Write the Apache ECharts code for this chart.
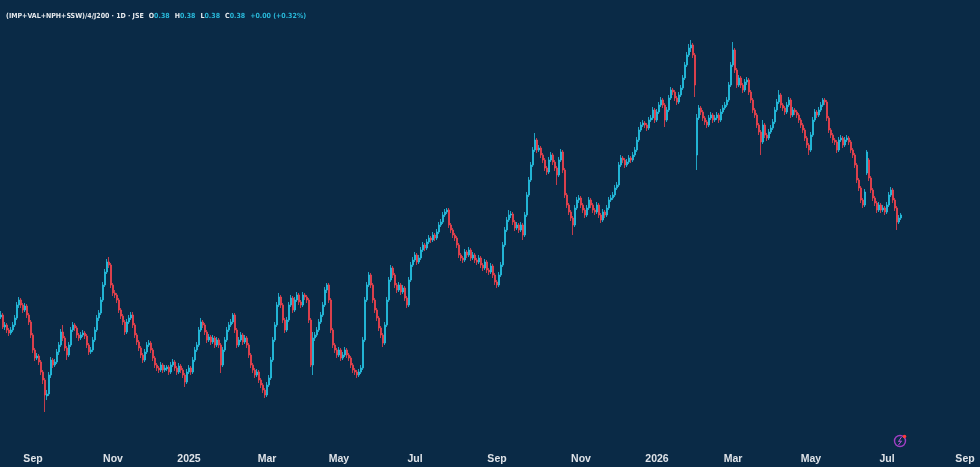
<!DOCTYPE html>
<html>
<head>
<meta charset="utf-8">
<script src="https://cdn.jsdelivr.net/npm/echarts@6/dist/echarts.min.js"></script>
<style>
html,body{margin:0;padding:0;background:#0a2a46;}
#main{width:980px;height:467px;}
</style>
</head>
<body>
<div id="main"></div>
<script>
//初始化
var symbolName = "(IMP+VAL+NPH+SSW)/4/J200 · 1D · JSE",
    lastO = "0.38", lastH = "0.38", lastL = "0.38", lastC = "0.38",
    lastChg = "+0.00 (+0.32%)";

// month ticks (category index) and their text
var tickIdx  = [16, 56, 94, 133, 169, 207, 248, 290, 328, 366, 405, 443, 482];
var tickText = ["Sep", "Nov", "2025", "Mar", "May", "Jul", "Sep", "Nov", "2026", "Mar", "May", "Jul", "Sep"];

var slotCount = 490;

// daily candles, price in thousandths: [open, close, low, high]
var candles = [
    // Aug - Oct 2024
    [283,285,281,289],[285,273,271,287],[273,275,270,278],[275,270,267,277],[270,267,264,272],
    [267,270,265,273],[270,275,268,278],[275,282,273,285],[282,295,280,298],[295,300,292,303],
    [300,295,292,302],[295,290,287,297],[290,294,288,297],[294,285,282,296],[285,278,275,287],
    [278,265,262,280],[265,250,247,267],[250,242,239,252],[242,244,240,247],[244,238,235,246],
    [238,228,225,240],[228,220,216,230],[220,205,188,222],[204,206,200,210],[206,225,204,228],
    [225,240,222,243],[240,235,232,242],[235,238,233,241],[238,248,236,251],[248,255,245,258],
    [255,268,253,271],
    [268,262,259,275],[262,252,249,264],[252,245,240,254],[245,255,243,258],[255,270,253,273],
    [270,275,268,278],[275,272,269,277],[272,265,262,274],[265,262,259,267],[262,265,260,268],
    [265,267,263,270],[267,264,261,269],[264,255,252,266],[255,248,245,257],[248,250,246,253],
    [250,260,248,263],[260,270,258,273],[270,282,268,285],[282,287,279,290],[287,300,285,303],
    [300,315,298,318],[315,328,313,331],[328,338,326,341],[338,335,332,343],[335,315,312,337],
    [315,307,304,317],[307,305,302,310],[305,300,297,307],[300,290,287,302],[290,284,281,292],
    // Nov - Dec 2024
    [284,278,275,286],[278,268,265,280],[268,278,266,281],[278,282,276,285],[282,285,280,288],
    [285,275,272,288],[275,265,262,277],[265,258,255,267],[258,252,249,260],[252,245,242,254],
    [245,240,237,247],[240,248,238,251],[248,255,246,258],[255,257,253,260],[257,250,247,259],
    [250,242,239,252],[242,235,232,244],[235,232,229,237],[232,230,227,234],[230,235,228,238],
    [235,230,227,237],[230,232,228,235],[231,233,229,235],[233,228,225,235],[228,235,226,238],
    // Jan - Mar 2025
    [235,238,233,241],[238,232,229,240],[232,228,225,234],[228,234,226,237],[234,230,227,236],
    [230,225,222,232],[225,218,213,227],[218,228,216,231],[228,232,226,235],[232,228,225,234],
    [228,240,226,243],[240,250,238,253],[250,255,248,258],[255,270,253,273],[270,278,268,282],
    [278,275,272,280],[275,268,265,277],[268,260,257,270],[260,263,258,266],[263,258,255,265],
    [258,262,256,265],[262,255,252,264],[255,260,253,263],[260,255,252,262],[255,235,227,257],
    [235,250,233,253],[250,260,248,263],[260,270,258,273],[270,275,268,278],[275,278,273,281],
    [278,285,276,287],[285,270,267,287],[270,255,252,272],[255,260,253,263],[260,265,258,268],
    [265,258,255,267],[258,262,256,265],[262,255,252,264],[255,245,242,257],[245,235,232,247],
    [235,230,227,237],[230,225,222,232],[225,228,223,231],[228,220,217,230],[220,215,212,222],
    [215,210,207,217],[210,205,202,212],[205,215,203,218],[215,222,213,225],
    // Apr - May 2025
    [222,240,220,243],[240,260,238,263],[260,275,258,278],[275,295,273,298],[295,303,293,307],
    [303,295,292,305],[295,280,277,297],[280,270,267,282],[270,280,268,283],[280,295,278,298],
    [295,302,293,305],[302,290,287,304],[290,300,288,303],[300,305,298,308],[305,298,295,307],
    [298,295,292,300],[295,305,293,308],[305,303,300,307],[303,300,297,305],[300,280,277,302],
    [280,235,233,282],[235,262,225,268],[262,265,259,268],[265,270,263,273],[270,278,268,281],
    [278,285,276,288],[285,295,283,298],[295,310,293,313],[310,315,307,317],[315,300,297,317],
    [300,270,267,302],[270,255,252,272],[255,250,247,257],[250,245,242,252],[245,250,243,253],
    [250,242,239,252],[242,245,240,248],[245,250,243,253],[250,245,242,252],[245,242,239,247],
    // Jun - Jul 2025
    [242,235,232,244],[235,230,227,237],[230,228,225,232],[228,225,222,230],[225,228,223,231],
    [228,232,226,235],[232,260,230,263],[260,300,258,303],[300,315,298,318],[315,325,313,328],
    [325,315,312,327],[315,300,297,317],[300,290,287,302],[290,282,279,292],[282,272,269,284],
    [272,265,262,274],[265,257,253,267],[257,275,255,278],[275,300,273,303],[300,320,298,323],
    [320,332,318,335],[332,325,322,334],[325,315,312,327],[315,310,307,317],[310,315,308,318],
    [315,308,305,317],[308,312,306,315],[312,302,299,314],[302,295,292,304],[295,320,293,323],
    // Jul - Sep 2025
    [320,335,318,338],[335,340,333,343],[340,345,338,348],[345,338,335,347],[338,342,336,345],
    [342,350,340,353],[350,355,348,358],[355,352,349,357],[352,358,350,361],[358,362,356,365],
    [362,360,357,364],[360,365,358,368],[365,362,359,367],[362,368,360,371],[368,375,366,378],
    [375,378,373,381],[378,385,376,388],[385,388,383,391],[388,390,386,392],[390,375,372,392],
    [375,370,367,377],[370,365,362,372],[365,362,359,367],[362,355,352,364],[355,345,342,357],
    [345,342,339,347],[342,340,337,344],[340,348,338,351],[348,345,342,350],[345,350,343,353],
    [350,342,339,352],[342,345,340,348],[345,340,337,347],[340,338,335,342],[338,342,336,345],
    [342,335,332,344],[335,332,329,337],[332,338,330,341],[338,330,327,340],[330,328,325,332],
    [328,334,326,337],[334,325,322,336],[325,318,315,327],[318,315,312,320],[315,325,313,328],
    [325,335,323,338],
    // Sep - Nov 2025
    [335,355,333,358],[355,370,353,373],[370,380,368,383],[380,385,378,390],[385,386,382,389],
    [386,378,375,388],[378,372,369,380],[372,375,370,378],[375,370,367,377],[370,375,368,378],
    [375,365,360,377],[365,385,363,388],[385,405,383,408],[405,420,403,423],[420,435,418,438],
    [435,450,433,453],[450,460,448,467],[460,450,447,462],[450,452,448,455],[452,445,442,454],
    [445,440,437,447],[440,432,429,442],[432,428,425,434],[428,440,426,443],[440,445,438,448],
    [445,438,435,447],[438,432,429,440],[432,425,415,434],[425,440,423,443],[440,448,438,451],
    [448,430,427,450],[430,405,402,432],[405,395,392,407],[395,388,385,397],[388,382,379,390],
    [382,375,365,384],[375,392,373,395],[392,400,390,403],[400,402,397,405],[402,395,392,404],
    [395,390,387,397],[390,385,382,392],[385,392,383,395],[392,400,390,403],[400,395,392,402],
    [395,390,387,397],[390,388,385,392],[388,395,386,398],[395,385,382,397],[385,380,377,387],
    // Nov 2025 - Feb 2026
    [380,388,378,391],[388,385,382,390],[385,392,383,395],[392,400,390,403],[400,402,398,405],
    [402,405,400,408],[405,412,403,415],[412,415,410,418],[415,435,413,438],[435,442,433,445],
    [442,440,437,444],[440,435,432,442],[435,438,433,441],[438,442,436,445],[442,440,437,444],
    [440,445,438,448],[445,450,443,453],[450,460,448,463],[460,470,458,473],[470,475,468,478],
    [475,477,473,480],[477,475,472,479],[475,472,469,477],[472,480,470,483],[480,482,478,485],
    [482,490,480,493],[490,480,477,492],[480,488,478,491],[488,495,486,498],[495,500,493,503],
    [500,495,492,502],[495,480,473,497],[480,490,478,493],[490,502,488,505],[502,510,500,513],
    [510,508,505,512],[508,502,499,510],[502,498,495,504],[498,505,496,508],[505,512,503,515],
    [512,522,510,525],[522,535,520,538],[535,545,533,548],[545,552,543,556],[552,555,548,560],
    [555,545,542,557],[545,515,503,547],[445,482,430,486],[482,492,480,495],[492,488,485,494],
    // Feb - Apr 2026
    [488,482,479,490],[482,478,475,484],[478,475,472,480],[475,482,473,485],[482,485,480,488],
    [485,480,477,487],[480,482,478,485],[482,485,480,488],[485,480,477,487],[480,488,478,491],
    [488,492,486,495],[492,495,490,498],[495,500,493,503],[500,515,498,518],[515,535,513,538],
    [535,550,533,558],[550,530,527,552],[530,515,512,532],[515,522,513,525],[522,515,512,524],
    [515,510,507,517],[510,518,508,521],[518,520,515,523],[520,508,505,522],[508,500,497,510],
    [500,490,487,502],[490,485,482,492],[485,475,472,487],[475,468,465,477],[468,458,445,470],
    [458,475,456,480],[475,465,462,477],[465,462,459,467],[462,468,460,471],[468,472,466,475],
    [472,478,470,481],[478,490,476,493],[490,498,488,501],[498,505,496,510],[505,495,492,507],
    [495,492,489,497],[492,488,485,494],[488,495,486,498],[495,500,493,503],[500,485,482,502],
    [485,490,483,493],[490,488,485,492],[488,485,482,490],[485,480,477,487],[480,475,472,482],
    // May - Jul 2026
    [475,470,467,477],[470,462,459,472],[462,455,452,464],[455,450,445,457],[450,465,448,468],
    [465,480,463,483],[480,488,478,491],[488,485,482,490],[485,490,483,493],[490,495,488,498],
    [495,500,493,502],[500,498,495,502],[498,482,479,500],[482,470,467,484],[470,465,462,472],
    [465,460,457,467],[460,458,455,462],[458,450,447,460],[450,460,448,463],[460,462,458,465],
    [462,455,452,464],[455,460,453,463],[460,462,458,465],[462,458,455,464],[458,450,447,460],
    [450,445,442,452],[445,435,432,447],[435,420,417,437],[420,412,409,422],[412,400,397,414],
    [400,395,392,402],[395,408,393,411],[427,448,425,450],[440,422,419,442],[422,410,407,424],
    [410,402,399,412],[402,397,394,404],[397,390,387,399],[390,395,388,398],[395,390,387,397],
    [390,392,388,395],[392,388,385,394],[388,395,386,398],[395,405,393,408],[405,410,403,413],
    [410,400,397,412],[400,392,389,402],[392,378,370,394],[378,382,376,385],[382,385,380,387]
];


/********* 数据整理 *********/
var slots = [];
for (var i = 0; i < slotCount; i++) {
    slots.push(String(i));
}

var seriesData = [];
for (var k = 0; k < candles.length; k++) {
    var item = candles[k];
    seriesData.push([item[0] / 1000, item[1] / 1000, item[2] / 1000, item[3] / 1000]);
}


/********* K线图 *********/
var upColor = "#26c4e4",
    downColor = "#f2434d",
    valColor = "#29b8d9",
    titleFont = "'DejaVu Sans Condensed', 'Liberation Sans', sans-serif";

var myChart = echarts.init(document.getElementById("main"), null, {renderer: "canvas"});

option = {

    backgroundColor : "#0a2a46",

    animation : false,

    title : {
        left : 1,
        top : 2,
        text : "{n|" + symbolName + "} {l|O}{v|" + lastO + "} {l|H}{v|" + lastH + "} {l|L}{v|" + lastL +
               "} {l|C}{v|" + lastC + "} {v|" + lastChg + "}",
        textStyle : {
            rich : {
                n : {color : "#e6eaee", fontSize : 7, fontWeight : "bold", fontFamily : titleFont},
                l : {color : "#e6eaee", fontSize : 7, fontWeight : "bold", fontFamily : titleFont},
                v : {color : valColor, fontSize : 7, fontFamily : titleFont}
            }
        }
    },

    grid : {left : 0, right : 0, top : 0, bottom : 27},

    xAxis : {
        type : "category",
        data : slots,
        boundaryGap : true,
        axisLine : {show : false},
        axisTick : {show : false},
        splitLine : {show : false},
        axisLabel : {
            interval : function(idx){ return tickIdx.indexOf(idx) >= 0; },
            formatter : function(val, idx){
                var p = tickIdx.indexOf(idx);
                return p >= 0 ? tickText[p] : "";
            },
            color : "#dfe3e8",
            fontSize : 10.5,
            fontWeight : "bold",
            fontFamily : "Liberation Sans",
            margin : 14,
            hideOverlap : false
        }
    },

    yAxis : {
        type : "value",
        min : 0.16,
        max : 0.60,
        show : false,
        splitLine : {show : false}
    },

    series : [
        {
            name : "J200",
            type : "candlestick",
            data : seriesData,
            barWidth : 1.6,
            itemStyle : {
                color : upColor,
                color0 : downColor,
                borderColor : upColor,
                borderColor0 : downColor,
                borderColorDoji : upColor,
                borderWidth : 0.8
            }
        }
    ],

    graphic : [
        {
            type : "circle",
            shape : {cx : 900, cy : 441, r : 5.5},
            style : {fill : "none", stroke : "#a23fc4", lineWidth : 1.4}
        },
        {
            type : "polyline",
            shape : {points : [[901.5, 437], [898.5, 441.5], [901.5, 441], [898.5, 445]]},
            style : {fill : "none", stroke : "#b852d8", lineWidth : 1}
        },
        {
            type : "circle",
            shape : {cx : 904.5, cy : 436.5, r : 1.8},
            style : {fill : "#ff3b3b"}
        }
    ]
};

myChart.setOption(option);
</script>
</body>
</html>
